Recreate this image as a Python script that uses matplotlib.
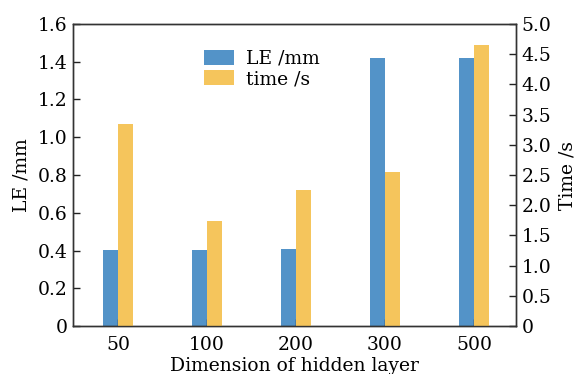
import numpy as np
import matplotlib.pyplot as plt

#### DATA ####
dims = ['50', '100', '200', '300', '500']
le_mm = [0.403, 0.403, 0.406, 1.418, 1.418]
time_s = [3.34, 1.74, 2.26, 2.55, 4.65]

blue = '#5393C8'
yellow = '#F5C55C'

plt.rcParams['font.family'] = ['DejaVu Serif']
plt.rcParams['font.size'] = 12

fig = plt.figure(figsize=(5.75, 3.74), dpi=100)
ax = fig.add_axes([0.127, 0.128, 0.770, 0.808])
ax2 = ax.twinx()

x = np.arange(len(dims))
w = 0.17
b1 = ax.bar(x, le_mm, width=-w, align='edge', color=blue, label='LE /mm')
b2 = ax2.bar(x, time_s, width=w, align='edge', color=yellow, label='time /s')

ax.set_xlim(-0.505, 4.47)
ax.set_ylim(0, 1.6)
ax2.set_ylim(0, 5.0)
ax.set_xticks(x)
ax.set_xticklabels(dims)
ax.set_yticks(np.arange(0, 1.61, 0.2))
ax.set_yticklabels(['0'] + ['%.1f' % v for v in np.arange(0.2, 1.61, 0.2)])
ax2.set_yticks(np.arange(0, 5.01, 0.5))
ax2.set_yticklabels(['0'] + ['%.1f' % v for v in np.arange(0.5, 5.01, 0.5)])

for a in (ax, ax2):
    a.tick_params(direction='in', length=5, width=1, color='#222222', labelsize=13.5, pad=4)
    for s in a.spines.values():
        s.set_color('#333333')
        s.set_linewidth(1)
ax.tick_params(axis='x', pad=7)

ax.set_xlabel('Dimension of hidden layer', fontsize=13.5, labelpad=2)
ax.set_ylabel('LE /mm', fontsize=13.5, labelpad=5)
ax2.set_ylabel('Time /s', fontsize=13.5, labelpad=5)

ax.legend([b1, b2], ['LE /mm', 'time /s'], loc='upper left',
          bbox_to_anchor=(0.28, 0.94), frameon=False, fontsize=13.5,
          handlelength=1.6, handleheight=0.85, handletextpad=0.6,
          labelspacing=0.15, borderaxespad=0)

fig.savefig('out.png', dpi=100)
